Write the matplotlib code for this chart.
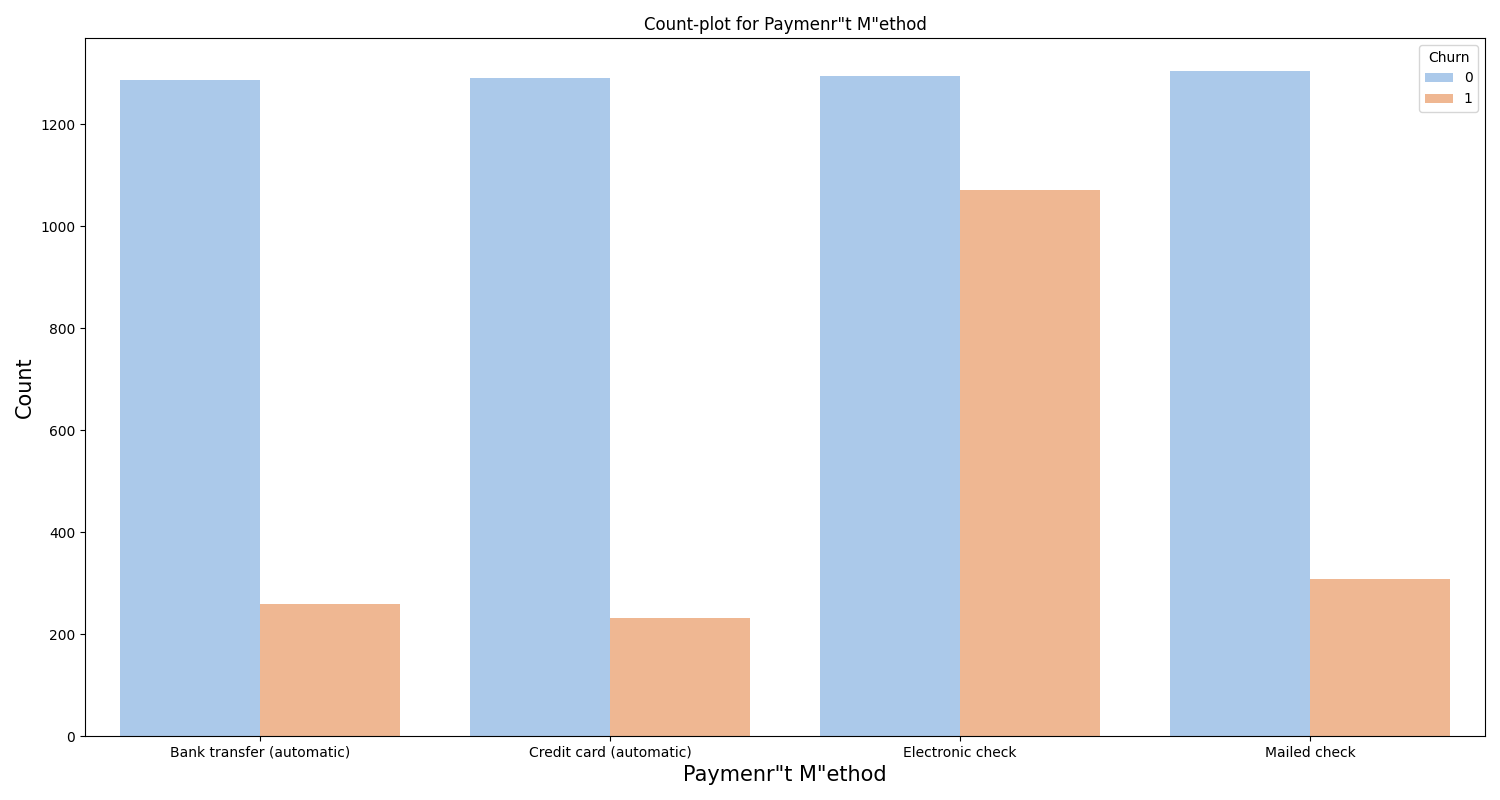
import matplotlib
matplotlib.use("Agg")
import matplotlib.pyplot as plt
import seaborn as sns
import pandas as pd

categories = ["Bank transfer (automatic)", "Credit card (automatic)", "Electronic check", "Mailed check"]
churn0 = [1286, 1290, 1294, 1304]
churn1 = [258, 232, 1071, 308]
hue_levels = ["0", "1"]

df = pd.DataFrame({
    "PaymentMethod": categories * 2,
    "Churn": [hue_levels[0]] * len(categories) + [hue_levels[1]] * len(categories),
    "Count": churn0 + churn1,
})

fig, ax = plt.subplots(figsize=(15, 8), dpi=100)
sns.barplot(data=df, x="PaymentMethod", y="Count", hue="Churn", palette="pastel",
            saturation=0.75, ax=ax)
ax.set_title('Count-plot for Paymenr"t M"ethod', fontsize=12)
ax.set_xlabel('Paymenr"t M"ethod', fontsize=15)
ax.set_ylabel("Count", fontsize=15)
ax.legend(title="Churn", loc="upper right")
fig.subplots_adjust(left=0.0567, right=0.99, top=0.9525, bottom=0.08)
fig.savefig("out.png", dpi=100)
